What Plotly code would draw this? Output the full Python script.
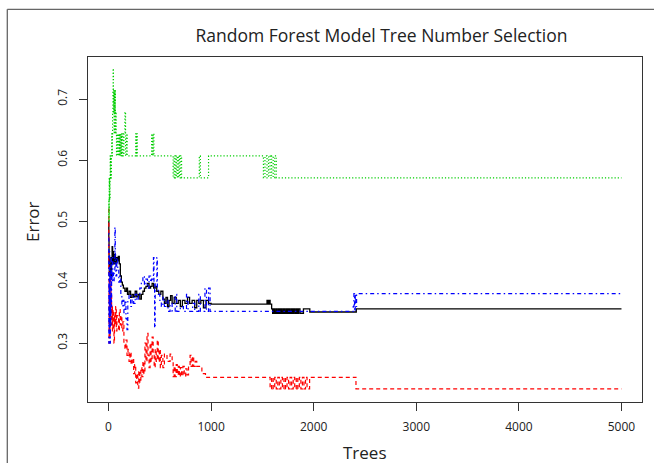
import plotly.graph_objects as go

# ---------------- data ----------------
x_ticks = [0, 1000, 2000, 3000, 4000, 5000]
y_ticks = [0.3, 0.4, 0.5, 0.6, 0.7]
y_tick_labels = ["0.3", "0.4", "0.5", "0.6", "0.7"]

# OOB error (black, solid)
black_trees = [1, 3, 5, 8, 12, 16, 20, 25, 30, 35, 40, 45, 50, 55, 60, 68, 75, 85, 95, 105,
               115, 125, 135, 145, 160, 175, 185, 200, 215, 230, 245, 260, 275, 290, 305, 320,
               335, 350, 365, 380, 395, 410, 425, 440, 455, 470, 490, 510, 530, 545, 560, 575,
               590, 605, 620, 640, 660, 680, 700, 720, 745, 770, 790, 815, 840, 860, 880, 900,
               925, 950, 975, 1000, 1545, 1555, 1565, 1575, 1590, 1600, 1612, 1622, 1635, 1645,
               1658, 1668, 1680, 1692, 1705, 1715, 1728, 1740, 1752, 1765, 1778, 1790, 1802,
               1815, 1828, 1840, 1852, 1866, 1900, 1962, 2415, 5000]
black_err = [0.50, 0.47, 0.43, 0.41, 0.44, 0.42, 0.43, 0.41, 0.44, 0.458, 0.43, 0.45, 0.44, 0.43,
             0.445, 0.43, 0.44, 0.435, 0.442, 0.43, 0.41, 0.40, 0.395, 0.39, 0.385, 0.39, 0.38,
             0.385, 0.375, 0.38, 0.376, 0.385, 0.376, 0.38, 0.372, 0.38, 0.385, 0.39, 0.393,
             0.398, 0.39, 0.393, 0.398, 0.39, 0.393, 0.385, 0.38, 0.385, 0.372, 0.365, 0.375,
             0.36, 0.37, 0.378, 0.365, 0.375, 0.365, 0.37, 0.36, 0.37, 0.365, 0.375, 0.365,
             0.37, 0.358, 0.37, 0.365, 0.37, 0.358, 0.37, 0.365, 0.364, 0.37, 0.364, 0.37, 0.364,
             0.356, 0.349, 0.356, 0.349, 0.356, 0.349, 0.356, 0.349, 0.356, 0.349, 0.356, 0.349,
             0.356, 0.349, 0.356, 0.349, 0.356, 0.349, 0.356, 0.349, 0.356, 0.349, 0.356, 0.349,
             0.356, 0.351, 0.356, 0.356]

# class 1 error (red, dashed)
red_trees = [1, 3, 5, 7, 9, 11, 13, 15, 18, 21, 24, 27, 30, 34, 38, 43, 48, 53, 58, 64, 70, 76,
             82, 90, 98, 106, 114, 122, 130, 140, 150, 160, 170, 180, 190, 200, 210, 220, 232,
             245, 255, 265, 275, 285, 295, 305, 315, 325, 335, 345, 355, 365, 375, 385, 395,
             405, 415, 425, 435, 445, 455, 465, 475, 485, 495, 505, 515, 530, 545, 570, 600,
             620, 630, 640, 650, 660, 670, 680, 690, 700, 712, 725, 738, 752, 765, 780, 795,
             805, 818, 830, 845, 860, 880, 910, 945, 1575, 1590, 1605, 1620, 1635, 1650, 1665,
             1680, 1695, 1710, 1725, 1740, 1755, 1770, 1785, 1800, 1815, 1830, 1845, 1860,
             1875, 1890, 1905, 1920, 1935, 1960, 2412, 5000]
red_err = [0.52, 0.42, 0.30, 0.40, 0.34, 0.38, 0.31, 0.36, 0.33, 0.41, 0.35, 0.38, 0.33, 0.36,
           0.32, 0.355, 0.34, 0.30, 0.35, 0.33, 0.36, 0.32, 0.345, 0.34, 0.32, 0.355, 0.33,
           0.345, 0.32, 0.335, 0.30, 0.29, 0.305, 0.28, 0.29, 0.27, 0.285, 0.265, 0.275, 0.25,
           0.265, 0.235, 0.25, 0.226, 0.255, 0.235, 0.26, 0.245, 0.27, 0.25, 0.30, 0.27, 0.316,
           0.28, 0.26, 0.30, 0.27, 0.31, 0.28, 0.26, 0.29, 0.27, 0.305, 0.27, 0.29, 0.26, 0.28,
           0.26, 0.282, 0.27, 0.282, 0.27, 0.245, 0.262, 0.245, 0.265, 0.248, 0.262, 0.245,
           0.26, 0.246, 0.262, 0.246, 0.258, 0.248, 0.265, 0.28, 0.262, 0.278, 0.262, 0.27,
           0.262, 0.262, 0.25, 0.244, 0.225, 0.244, 0.225, 0.244, 0.225, 0.244, 0.225, 0.244,
           0.225, 0.244, 0.225, 0.244, 0.225, 0.244, 0.225, 0.244, 0.225, 0.244, 0.225, 0.244,
           0.225, 0.244, 0.225, 0.244, 0.225, 0.244, 0.225, 0.225]

# class 2 error (green, dotted)
green_trees = [1, 3, 5, 7, 9, 11, 13, 15, 17, 19, 22, 25, 28, 31, 34, 37, 40, 43, 45, 48, 50,
               52, 55, 58, 61, 64, 67, 70, 74, 78, 84, 90, 96, 102, 108, 114, 120, 126, 132,
               140, 150, 160, 166, 175, 182, 265, 270, 275, 280, 420, 428, 434, 442, 630, 640,
               650, 660, 670, 680, 690, 700, 712, 885, 895, 975, 1510, 1525, 1545, 1560, 1575,
               1590, 1605, 1620, 1635, 5000]
green_err = [0.50, 0.536, 0.50, 0.571, 0.536, 0.571, 0.536, 0.571, 0.607, 0.571, 0.607, 0.571,
             0.607, 0.643, 0.607, 0.643, 0.679, 0.714, 0.75, 0.714, 0.679, 0.714, 0.643, 0.714,
             0.679, 0.714, 0.643, 0.679, 0.643, 0.607, 0.643, 0.607, 0.643, 0.607, 0.643, 0.607,
             0.643, 0.607, 0.643, 0.607, 0.643, 0.679, 0.607, 0.643, 0.607, 0.643, 0.607, 0.643,
             0.607, 0.643, 0.607, 0.643, 0.607, 0.571, 0.607, 0.571, 0.607, 0.571, 0.607, 0.571,
             0.607, 0.571, 0.607, 0.571, 0.607, 0.571, 0.607, 0.571, 0.607, 0.571, 0.607, 0.571,
             0.607, 0.571, 0.571]

# class 3 error (blue, dot-dash)
blue_trees = [1, 3, 5, 7, 9, 11, 13, 15, 18, 21, 24, 27, 30, 34, 38, 42, 48, 55, 62, 66, 72, 80,
              90, 100, 110, 120, 130, 140, 150, 160, 170, 180, 188, 200, 215, 230, 245, 260, 275,
              290, 305, 320, 335, 350, 365, 380, 395, 410, 420, 438, 443, 449, 455, 471, 476,
              485, 500, 515, 530, 545, 560, 580, 600, 620, 650, 665, 700, 730, 760, 775, 820,
              840, 880, 895, 940, 955, 975, 990, 2385, 2392, 2398, 2405, 2410, 2418, 5000]
blue_err = [0.48, 0.30, 0.40, 0.32, 0.45, 0.35, 0.42, 0.30, 0.38, 0.33, 0.44, 0.36, 0.42, 0.40,
            0.44, 0.42, 0.40, 0.42, 0.49, 0.43, 0.41, 0.44, 0.42, 0.40, 0.41, 0.38, 0.36, 0.37,
            0.35, 0.37, 0.34, 0.322, 0.37, 0.38, 0.36, 0.375, 0.365, 0.38, 0.37, 0.38, 0.39, 0.40,
            0.41, 0.395, 0.405, 0.39, 0.41, 0.40, 0.405, 0.44, 0.40, 0.325, 0.40, 0.44, 0.39,
            0.38, 0.37, 0.36, 0.375, 0.36, 0.37, 0.352, 0.365, 0.352, 0.38, 0.352, 0.36, 0.352,
            0.38, 0.352, 0.365, 0.352, 0.38, 0.352, 0.39, 0.352, 0.39, 0.352, 0.36, 0.381, 0.352,
            0.381, 0.36, 0.381, 0.381]

# ---------------- figure ----------------
W, H = 654, 463
ML, MR, MT, MB = 88, 12, 57, 61
FONT = "Open Sans"

series = [
    (black_trees, black_err, "#000000", "solid", 1.3),
    (red_trees, red_err, "#FF0000", "4px,3px", 1.2),
    (green_trees, green_err, "#00CD00", "1.2px,2px", 1.2),
    (blue_trees, blue_err, "#0000FF", "1.5px,3px,4px,3px", 1.2),
]

fig = go.Figure()
for tr, er, col, dash, w in series:
    fig.add_trace(go.Scatter(x=tr, y=er, mode="lines",
                             line=dict(color=col, width=w, dash=dash, shape="hv"),
                             showlegend=False, hoverinfo="skip"))

pw = W - ML - MR
ph = H - MT - MB


def px_to_paper_x(px):
    return (px - ML) / pw


def px_to_paper_y(py):
    return (H - MB - py) / ph


fig.update_layout(
    width=W, height=H,
    margin=dict(l=ML, r=MR, t=MT, b=MB, pad=0),
    paper_bgcolor="white", plot_bgcolor="white",
    font=dict(family=FONT, color="#222222"),
    title=dict(text="Random Forest Model Tree Number Selection",
               font=dict(family=FONT, size=17.5, color="#222222"),
               x=381.5 / W, xanchor="center", xref="container",
               y=1 - 36 / H, yanchor="middle", yref="container"),
    xaxis=dict(range=[-200, 5200], tickvals=x_ticks, ticks="outside", ticklen=8,
               tickwidth=1.2, tickcolor="#333333", showline=True, mirror=True,
               linecolor="#333333", linewidth=1.2, showgrid=False, zeroline=False,
               ticklabelstandoff=5,
               tickfont=dict(family=FONT, size=12, color="#222222")),
    yaxis=dict(range=[0.2035, 0.769], tickvals=y_ticks, ticktext=y_tick_labels,
               ticks="outside", ticklen=8, tickwidth=1.2, tickcolor="#333333",
               showline=True, mirror=True, linecolor="#333333", linewidth=1.2,
               showgrid=False, zeroline=False, tickangle=-90, ticklabelstandoff=7,
               tickfont=dict(family=FONT, size=12, color="#222222")),
    annotations=[
        dict(text="Trees", xref="paper", yref="paper", x=0.5, y=px_to_paper_y(452),
             xanchor="center", yanchor="middle", showarrow=False,
             font=dict(family=FONT, size=17, color="#222222")),
        dict(text="Error", xref="paper", yref="paper", x=px_to_paper_x(32),
             y=px_to_paper_y(222), xanchor="center", yanchor="middle", showarrow=False,
             textangle=-90, font=dict(family=FONT, size=17, color="#222222")),
    ],
    shapes=[
        dict(type="line", xref="paper", yref="paper",
             x0=px_to_paper_x(7.3), x1=px_to_paper_x(7.3),
             y0=px_to_paper_y(9.3), y1=px_to_paper_y(470),
             line=dict(color="#666666", width=1.3)),
        dict(type="line", xref="paper", yref="paper",
             x0=px_to_paper_x(7.3), x1=px_to_paper_x(660),
             y0=px_to_paper_y(9.3), y1=px_to_paper_y(9.3),
             line=dict(color="#666666", width=1.3)),
    ],
)

fig.write_html("out.html")
